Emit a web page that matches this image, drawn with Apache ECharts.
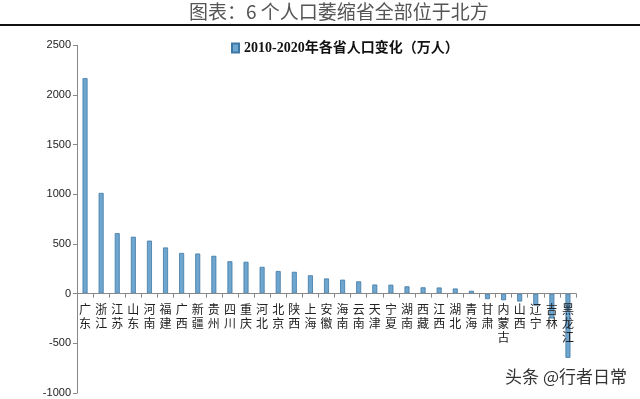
<!DOCTYPE html>
<html>
<head>
<meta charset="utf-8">
<script src="https://cdn.jsdelivr.net/npm/echarts@6/dist/echarts.min.js"></script>
<style>
html,body{margin:0;padding:0;background:#fff;}
#main{width:640px;height:399px;}
</style>
</head>
<body>
<div id="main"></div>
<script>
const categories = ['广东','浙江','江苏','山东','河南','福建','广西','新疆','贵州','四川','重庆','河北','北京','陕西','上海','安徽','海南','云南','天津','宁夏','湖南','西藏','江西','湖北','青海','甘肃','内蒙古','山西','辽宁','吉林','黑龙江'];
const values = [2169,1014,609,573,534,465,410,404,381,326,321,270,228,220,185,153,141,124,92,90,74,64,62,52,29,-55,-66,-79,-120,-250,-646];
const yTicks = [-1000,-500,0,500,1000,1500,2000,2500];
const seriesName = '2010-2020年各省人口变化（万人）';
const titleText = '图表：6 个人口萎缩省全部位于北方';
const watermark = '头条 @行者日常';

const W = 640, H = 399;
const gridTop = 45.3, gridBottom = 6;
const yMin = yTicks[0], yMax = yTicks[yTicks.length-1];
const gridH = H - gridTop - gridBottom;
// move the category axis up to the zero line
const zeroOffset = -((0 - yMin) / (yMax - yMin)) * gridH;

const chart = echarts.init(document.getElementById('main'), null, {renderer:'canvas', width:W, height:H});
chart.setOption({
  animation:false,
  backgroundColor:'#fff',
  grid:{left:77,right:64,top:gridTop,bottom:gridBottom,containLabel:false,outerBoundsMode:'none'},
  legend:{
    data:[{name:seriesName,icon:'rect'}],
    left:226, top:36,
    itemWidth:7, itemHeight:9, itemGap:4,
    textStyle:{fontFamily:'Liberation Serif, Noto Sans CJK SC, serif',fontWeight:'bold',fontSize:14,color:'#111'}
  },
  xAxis:{
    type:'category', data:categories, boundaryGap:true, position:'bottom', offset:zeroOffset, z:5,
    axisLine:{show:true,onZero:false,lineStyle:{color:'#888',width:1}},
    axisTick:{show:true,alignWithLabel:false,length:4,inside:false,lineStyle:{color:'#888'}},
    axisLabel:{interval:0,margin:9,fontSize:12,lineHeight:14,color:'#222',fontFamily:'Noto Sans CJK SC',
      formatter:v=>v.split('').join('\n')}
  },
  yAxis:{
    type:'value', min:yMin, max:yMax, interval:500,
    axisLine:{show:true,lineStyle:{color:'#888',width:1}},
    axisTick:{show:true,length:4,lineStyle:{color:'#888'}},
    splitLine:{show:false},
    axisLabel:{margin:6,fontSize:11,color:'#222',fontFamily:'Liberation Sans, sans-serif',formatter:v=>String(v)}
  },
  series:[{
    name:seriesName, type:'bar', data:values, barWidth:5,
    itemStyle:{color:'#6ea6d0',borderColor:'#3f78a5',borderWidth:0.8}
  }],
  graphic:[
    {type:'text',left:189,top:2,z:10,style:{text:titleText,fontSize:19,fontFamily:'Noto Sans CJK SC',fill:'#555'}},
    {type:'rect',shape:{x:0,y:24,width:640,height:2},style:{fill:'#111'}},
    {type:'text',right:12,top:367,z:10,style:{text:watermark,fontSize:17,fontFamily:'Noto Sans CJK SC',fill:'#333',stroke:'#fff',lineWidth:2}}
  ]
});
</script>
</body>
</html>
